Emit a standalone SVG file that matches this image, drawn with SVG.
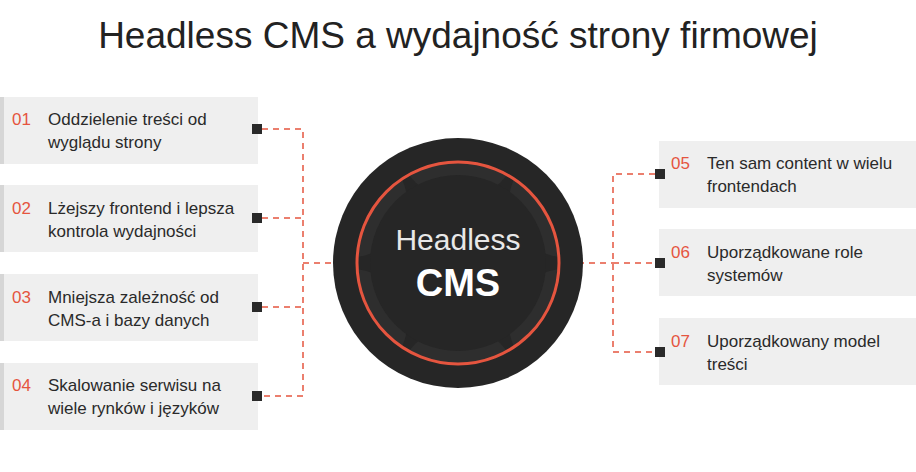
<svg xmlns="http://www.w3.org/2000/svg" width="916" height="472" viewBox="0 0 916 472">
<style>
.box{fill:#efefef}
.bar{fill:#d6d6d6}
.num{font-family:"Liberation Sans",Arial,sans-serif;font-size:17px;fill:#e5553f}
.txt{font-family:"Liberation Sans",Arial,sans-serif;font-size:17px;fill:#2a2a2a}
.dash{fill:none;stroke:#e5553f;stroke-width:1.5;stroke-dasharray:6 5}
.sq{fill:#2a2a2a}
</style>
<defs><clipPath id="cl"><circle cx="458" cy="263" r="100"/></clipPath></defs>
<rect width="916" height="472" fill="#fff"/>
<text x="458" y="48" text-anchor="middle" font-family="Liberation Sans,Arial,sans-serif" font-size="37" fill="#222">Headless CMS a wydajność strony firmowej</text>
<g id="connectors">
<path class="dash" d="M262 129H303V396H262M262 218H303M262 307H303M303 263H360"/>
<path class="dash" d="M655 174H613V352H655M613 263H655M556 263H613"/>
</g>
<g id="center">
<circle cx="458" cy="263" r="125" fill="#262626"/>
<g fill="#2e2e2e" clip-path="url(#cl)">
<circle cx="458" cy="140" r="60"/><circle cx="458" cy="386" r="60"/>
<circle cx="352" cy="202" r="55"/><circle cx="564" cy="202" r="55"/>
<circle cx="352" cy="324" r="55"/><circle cx="564" cy="324" r="55"/>
<circle cx="458" cy="263" r="88" fill="#262626"/>
</g>
<circle cx="458" cy="263" r="101" fill="none" stroke="#e5553f" stroke-width="3"/>
<text x="458" y="250" text-anchor="middle" font-family="Liberation Sans,Arial,sans-serif" font-size="30" fill="#e8e8e8">Headless</text>
<text x="458" y="296" text-anchor="middle" font-family="Liberation Sans,Arial,sans-serif" font-size="38" font-weight="bold" fill="#fff">CMS</text>
</g>
<g id="n01"><rect class="box" x="0" y="97" width="258" height="67"/><rect class="bar" x="0" y="97" width="4" height="67"/><rect class="sq" x="252" y="124" width="10" height="10"/><text class="num" x="12" y="125">01</text><text class="txt" x="48" y="125">Oddzielenie treści od</text><text class="txt" x="48" y="148">wyglądu strony</text></g>
<g id="n02"><rect class="box" x="0" y="185" width="258" height="67"/><rect class="bar" x="0" y="185" width="4" height="67"/><rect class="sq" x="252" y="213" width="10" height="10"/><text class="num" x="12" y="214">02</text><text class="txt" x="48" y="214">Lżejszy frontend i lepsza</text><text class="txt" x="48" y="237">kontrola wydajności</text></g>
<g id="n03"><rect class="box" x="0" y="274" width="258" height="67"/><rect class="bar" x="0" y="274" width="4" height="67"/><rect class="sq" x="252" y="302" width="10" height="10"/><text class="num" x="12" y="303">03</text><text class="txt" x="48" y="303">Mniejsza zależność od</text><text class="txt" x="48" y="326">CMS-a i bazy danych</text></g>
<g id="n04"><rect class="box" x="0" y="363" width="258" height="67"/><rect class="bar" x="0" y="363" width="4" height="67"/><rect class="sq" x="252" y="391" width="10" height="10"/><text class="num" x="12" y="391">04</text><text class="txt" x="48" y="391">Skalowanie serwisu na</text><text class="txt" x="48" y="414">wiele rynków i języków</text></g>
<g id="n05"><rect class="box" x="659" y="141" width="257" height="67"/><rect class="sq" x="655" y="169" width="10" height="10"/><text class="num" x="671" y="169">05</text><text class="txt" x="707" y="169">Ten sam content w wielu</text><text class="txt" x="707" y="192">frontendach</text></g>
<g id="n06"><rect class="box" x="659" y="229" width="257" height="67"/><rect class="sq" x="655" y="258" width="10" height="10"/><text class="num" x="671" y="258">06</text><text class="txt" x="707" y="258">Uporządkowane role</text><text class="txt" x="707" y="281">systemów</text></g>
<g id="n07"><rect class="box" x="659" y="318" width="257" height="67"/><rect class="sq" x="655" y="347" width="10" height="10"/><text class="num" x="671" y="347">07</text><text class="txt" x="707" y="347">Uporządkowany model</text><text class="txt" x="707" y="370">treści</text></g>
</svg>
